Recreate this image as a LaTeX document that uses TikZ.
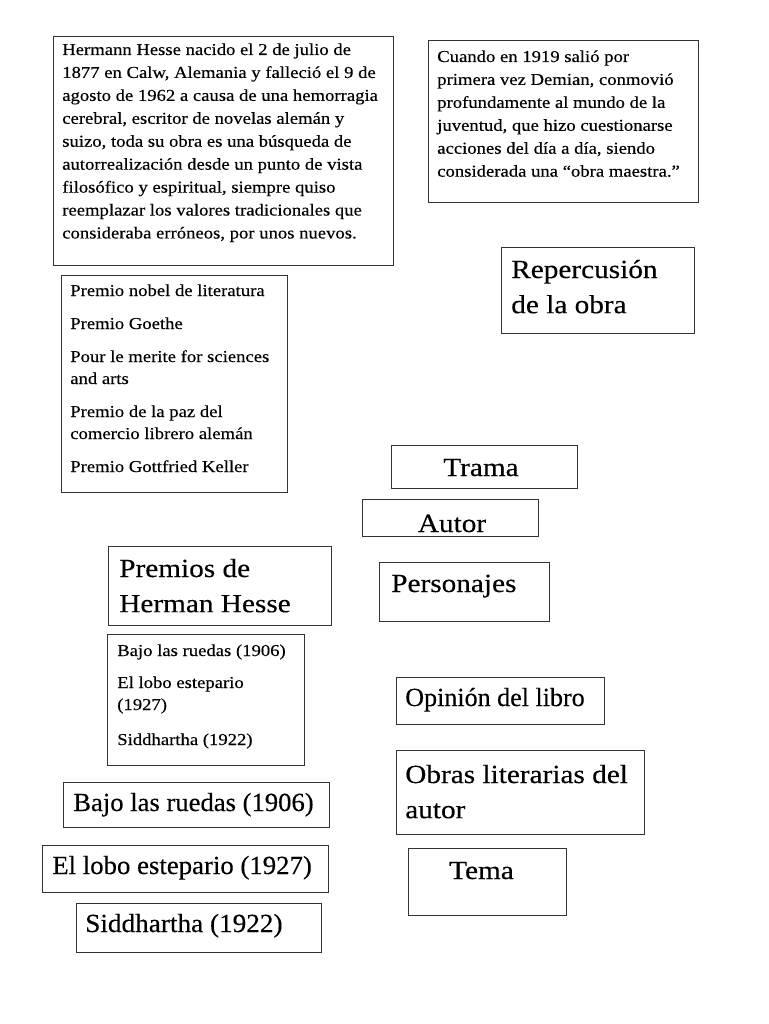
\documentclass[tikz,border=0pt]{standalone}
\usepackage{fontspec}
\setmainfont{Liberation Serif}[FakeStretch=1.12,FakeBold=0.3]
\usetikzlibrary{fit}
\begin{document}
\begin{tikzpicture}[x=0.75pt,y=-0.75pt,
  box/.style={draw=black!80, line width=0.65pt, inner sep=0pt},
  small/.style={anchor=base west, inner sep=0pt, font=\fontsize{12.5}{17.2}\selectfont},
  list/.style={anchor=base west, inner sep=0pt, font=\fontsize{12.5}{16.5}\selectfont},
  big/.style={anchor=base west, inner sep=0pt, font=\fontsize{19.6}{26.4}\selectfont}]
\useasboundingbox (0,0) rectangle (768,1024);
\fill[white] (0,0) rectangle (768,1024);

% boxes
\node[box, fit={(53,36) (393,265)}] (bio) {};
\node[box, fit={(428,40) (698,202)}] (demian) {};
\node[box, fit={(501,247) (694,333)}] (repbox) {};
\node[box, fit={(61,275) (287,492)}] (awards) {};
\node[box, fit={(391,445) (577,488)}] (tramabox) {};
\node[box, fit={(362,499) (538,536)}] (autorbox) {};
\node[box, fit={(108,546) (331,625)}] (premiosbox) {};
\node[box, fit={(379,562) (549,621)}] (persbox) {};
\node[box, fit={(107,634) (304,765)}] (books) {};
\node[box, fit={(396,677) (604,724)}] (opinbox) {};
\node[box, fit={(396,750) (644,834)}] (obrasbox) {};
\node[box, fit={(63,782) (329,827)}] (bajobox) {};
\node[box, fit={(42,845) (328,892)}] (lobobox) {};
\node[box, fit={(408,848) (566,915)}] (temabox) {};
\node[box, fit={(76,903) (321,952)}] (siddbox) {};

% texts
\node[small] (biotext) at (62,55) {\vtop{%
\hbox{Hermann Hesse nacido el 2 de julio de}
\hbox{1877 en Calw, Alemania y falleció el 9 de}
\hbox{agosto de 1962 a causa de una hemorragia}
\hbox{cerebral, escritor de novelas alemán y}
\hbox{suizo, toda su obra es una búsqueda de}
\hbox{autorrealización desde un punto de vista}
\hbox{filosófico y espiritual, siempre quiso}
\hbox{reemplazar los valores tradicionales que}
\hbox{consideraba erróneos, por unos nuevos.}}};

\node[small] (demiantext) at (437,62) {\vtop{%
\hbox{Cuando en 1919 salió por}
\hbox{primera vez Demian, conmovió}
\hbox{profundamente al mundo de la}
\hbox{juventud, que hizo cuestionarse}
\hbox{acciones del día a día, siendo}
\hbox{considerada una “obra maestra.”}}};

\node[big] (reptext) at (511,278) {\vtop{%
\hbox{Repercusión}
\hbox{de la obra}}};

\node[list] (aw1) at (70,296) {Premio nobel de literatura};
\node[list] (aw2) at (70,329) {Premio Goethe};
\node[list] (aw3) at (70,362) {\vtop{\hbox{Pour le merite for sciences}\hbox{and arts}}};
\node[list] (aw4) at (70,417) {\vtop{\hbox{Premio de la paz del}\hbox{comercio librero alemán}}};
\node[list] (aw5) at (70,472) {Premio Gottfried Keller};

\node[big, anchor=base] (tramatext) at (481,476) {Trama};
\node[big, anchor=base] (autortext) at (452,532) {Autor};

\node[big] (premiostext) at (119,577) {\vtop{%
\hbox{Premios de}
\hbox{Herman Hesse}}};

\node[big] (perstext) at (391,592) {Personajes};

\node[list] (bk1) at (117,656) {Bajo las ruedas (1906)};
\node[list] (bk2) at (117,688) {\vtop{\hbox{El lobo estepario}\hbox{(1927)}}};
\node[list] (bk3) at (117,745) {Siddhartha (1922)};

\node[big] (opintext) at (405,706) {\scalebox{0.89}[1]{Opinión del libro}};
\node[big] (obrastext) at (405,783) {\vtop{%
\hbox{Obras literarias del}
\hbox{autor}}};

\node[big] (bajotext) at (73,811) {\scalebox{0.91}[1]{Bajo las ruedas (1906)}};
\node[big] (lobotext) at (52,874) {\scalebox{0.915}[1]{El lobo estepario (1927)}};
\node[big, anchor=base] (trtema) at (481.5,879) {Tema};
\node[big] (siddtext) at (85,932) {\scalebox{0.93}[1]{Siddhartha (1922)}};
\end{tikzpicture}
\end{document}
